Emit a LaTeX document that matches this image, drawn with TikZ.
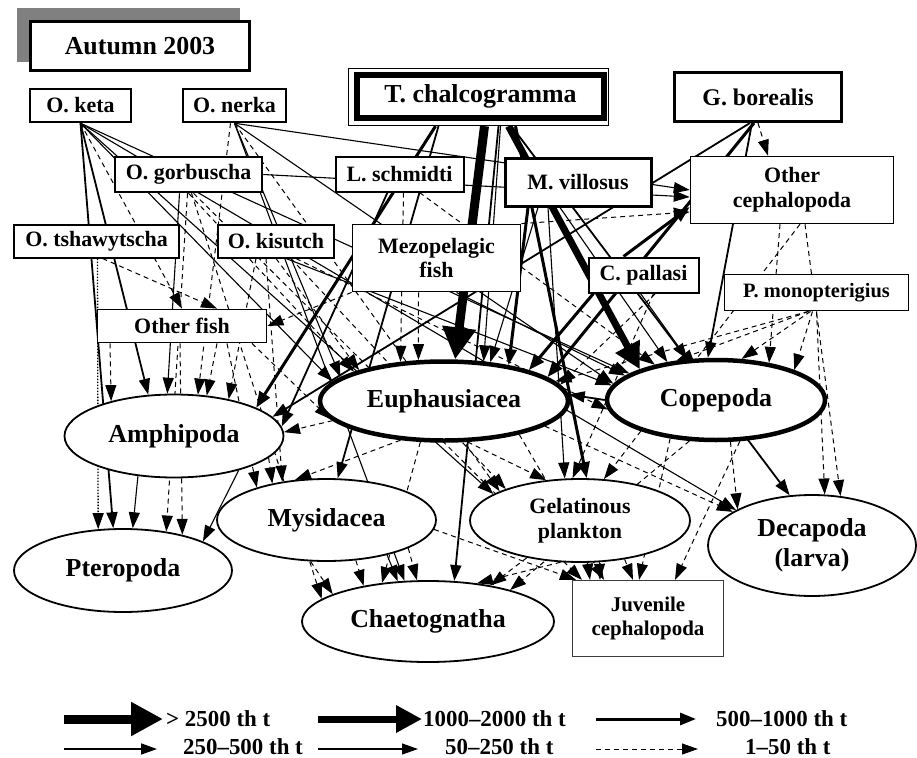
\documentclass[tikz,border=0pt]{standalone}
\usepackage{fontspec}
\setmainfont{Liberation Serif}
\usepackage{tikz}
\usetikzlibrary{arrows.meta,positioning,shapes.geometric,backgrounds}
\definecolor{shadowgray}{HTML}{808080}
\definecolor{juvgray}{HTML}{3C3C3C}
\tikzset{
  fishbox/.style={
    rectangle, draw=black, fill=white, line width=#1,
    font=\bfseries\fontsize{22}{25}\selectfont, align=center,
    inner sep=0pt
  },
  fishbox/.default=2.5bp,
  preyell/.style={
    ellipse, draw=black, fill=white, line width=#1,
    font=\bfseries\fontsize{26}{30}\selectfont, align=center,
    inner sep=0pt
  },
  preyell/.default=1.8bp,
  bigfont/.style={font=\bfseries\fontsize{26}{30}\selectfont},
  smallfont/.style={font=\bfseries\fontsize{22}{25}\selectfont},
  legtext/.style={font=\bfseries\fontsize{23}{25}\selectfont, inner sep=0pt},
  % ── flow classes (th t) ──
  flowxl/.style={line width=9bp, -{Triangle[length=32bp,width=32bp]}},
  flowl/.style={line width=7bp, -{Triangle[length=26bp,width=26bp]}},
  flowm/.style={line width=3bp, -{Triangle[length=16bp,width=12bp]}},
  flows/.style={line width=1.8bp, -{Triangle[length=16bp,width=11bp]}},
  flowxs/.style={line width=1.1bp, -{Triangle[length=16bp,width=11bp]}},
  flowdash/.style={line width=1bp, dash pattern=on 5bp off 4bp,
    -{Triangle[length=16bp,width=11bp]}},
  flowdot/.style={line width=1.3bp, dash pattern=on 1.5bp off 1.5bp,
    -{Triangle[length=16bp,width=11bp]}},
}
\begin{document}
\begin{tikzpicture}[x=1bp, y=-1bp]
  \useasboundingbox (0,0) rectangle (917,758);

  % Title with grey shadow
  \node[fill=shadowgray, minimum width=223bp, minimum height=54bp, inner sep=0pt] (shadow) at (128.5,35) {};
  \node[fishbox=3bp, bigfont, minimum width=219bp, minimum height=49bp] (title) at (140,46) {Autumn 2003};

  % Predators, top rows
  \node[fishbox, minimum width=101bp, minimum height=33bp] (keta) at (80.5,105.5) {O. keta};
  \node[fishbox, minimum width=103bp, minimum height=33bp] (nerka) at (234.5,105.5) {O. nerka};
  \node[fishbox=1.3bp, minimum width=260bp, minimum height=57bp] (tchframe) at (478.5,97) {};
  \node[fishbox=6bp, bigfont, minimum width=247bp, minimum height=43bp] (tch) at (480.5,96.5) {T. chalcogramma};
  \node[fishbox=3bp, font=\bfseries\fontsize{24}{27}\selectfont, minimum width=167bp, minimum height=49bp] (gbor) at (758,97) {G. borealis};

  \node[fishbox, minimum width=147bp, minimum height=35bp] (gorb) at (188.5,174.5) {O. gorbuscha};
  \node[fishbox=2bp, minimum width=128bp, minimum height=35bp] (lsch) at (399.5,174) {L. schmidti};
  \node[fishbox=3bp, minimum width=146bp, minimum height=48bp] (mvil) at (578,182) {M. villosus};
  \node[fishbox=1.5bp, minimum width=203bp, minimum height=67bp] (ocep) at (792,190) {Other\\cephalopoda};

  \node[fishbox=2bp, minimum width=165bp, minimum height=33bp] (tsha) at (96.5,241) {O. tshawytscha};
  \node[fishbox=2bp, minimum width=116bp, minimum height=33bp] (kisu) at (276,241) {O. kisutch};
  \node[fishbox=1.8bp, minimum width=168bp, minimum height=67bp] (mezo) at (436.5,258) {Mezopelagic\\fish};
  \node[fishbox=2bp, minimum width=110bp, minimum height=35bp] (cpal) at (643.5,275) {C. pallasi};
  \node[fishbox=1.8bp, font=\bfseries\fontsize{20.5}{24}\selectfont, minimum width=184bp, minimum height=36bp] (pmon) at (816.5,292.5) {P. monopterigius};
  \node[fishbox=1.8bp, minimum width=169bp, minimum height=33bp] (ofish) at (182,326) {Other fish};

  % Prey groups
  \node[preyell=4.5bp, minimum width=248bp, minimum height=79bp] (euph) at (444,401) {Euphausiacea};
  \node[preyell=4.5bp, minimum width=218bp, minimum height=80bp] (cope) at (716,400) {Copepoda};
  \node[preyell, minimum width=219bp, minimum height=83bp] (amph) at (174,436) {Amphipoda};
  \node[preyell, minimum width=219bp, minimum height=82bp] (mysid) at (326.5,520) {Mysidacea};
  \node[preyell, smallfont, minimum width=220bp, minimum height=83bp] (gelat) at (580,520.5) {Gelatinous\\plankton};
  \node[preyell, minimum width=208bp, minimum height=101bp] (deca) at (812,545.5) {Decapoda\\(larva)};
  \node[preyell, minimum width=218bp, minimum height=83bp] (ptero) at (123,570.5) {Pteropoda};
  \node[preyell, minimum width=252bp, minimum height=81bp] (chaet) at (428,621.5) {Chaetognatha};
  \node[fishbox=1.3bp, draw=juvgray, font=\bfseries\fontsize{21}{25}\selectfont, minimum width=151bp, minimum height=76bp] (juv) at (648,618.5) {Juvenile\\cephalopoda};

  \begin{pgfonlayer}{background}
    % T. chalcogramma
    \draw[flowxl] ([xshift=6bp]tchframe.south) -- (euph.75);
    \draw[flowl] ([xshift=30bp]tchframe.south) -- (cope.158);
    \draw[flowm] ([xshift=37bp]tchframe.south) -- (gelat.81);
    \draw[flows] ([xshift=20bp]tchframe.south) -- (chaet.57);
    \draw[flows] ([xshift=33bp]tchframe.south) -- (deca.114);
    \draw[flowm] ([xshift=-43bp]tchframe.south) -- (amph.19);
    \draw[flows] ([xshift=-40bp]tchframe.south) -- (mysid.75);
    \draw[flowxs] ([xshift=22bp]tchframe.south) -- (euph.45);

    % G. borealis
    \draw[flowdash] (gbor.south) -- ([xshift=-24bp]ocep.north);
    \draw[flows] ([xshift=-6bp]gbor.south) -- (cope.101);
    \draw[flows] ([xshift=-8bp]gbor.south) -- (amph.11);
    \draw[flowm] ([xshift=-4bp]gbor.south) -- (euph.13);

    % O. nerka
    \draw[flowxs] (nerka.south) -- (ocep.west);
    \draw[flowdash] ([xshift=-4bp]nerka.south) -- (amph.60);
    \draw[flowxs] (nerka.south) -- (chaet.120);
    \draw[flowxs] (nerka.south) -- (euph.167);
    \draw[flowxs] (nerka.south) -- (cope.171);
    \draw[flowdash] (nerka.south) -- (gelat.160);

    % O. keta
    \draw[flows] (keta.south) -- (ptero.103);
    \draw[flows] (keta.south) -- (amph.122);
    \draw[flowxs] (keta.south) -- (euph.170);
    \draw[flowxs] (keta.south) -- (cope.163);
    \draw[flowxs] (keta.south) -- (deca.155);
    \draw[flowxs] (keta.south) -- (gelat.163);
    \draw[flowdash] (keta.south) -- (ofish.north);

    % O. gorbuscha
    \draw[flowxs] ([xshift=-9bp]gorb.south) -- (amph.99);
    \draw[flowdash] ([xshift=-1bp]gorb.south) -- (ptero.42);
    \draw[flowdash] (gorb.south) -- (euph.162);
    \draw[flowxs] (gorb.east) -- ([yshift=-7bp]ocep.west);
    \draw[flowdash] ([xshift=5bp]gorb.south) -- ([xshift=-66bp]juv.north);
    \draw[flowdash] ([xshift=3bp]gorb.south) -- (chaet.168);

    % O. tshawytscha
    \draw[flowdot] ([xshift=1bp]tsha.south) -- (ptero.121);
    \draw[flowdash] ([xshift=6bp]tsha.south) -- ([xshift=35bp]ofish.north);

    % O. kisutch
    \draw[flowdash] ([xshift=-20bp]kisu.south) -- (amph.34);
    \draw[flowdash] ([xshift=-10bp]kisu.south) -- (mysid.139);
    \draw[flowdash] (kisu.south) -- (euph.160);
    \draw[flowxs] ([xshift=10bp]kisu.south) -- (cope.172);
    \draw[flowdash] ([xshift=15bp]kisu.south) -- (gelat.157);
    \draw[flowdash] ([xshift=20bp]kisu.south) -- (cope.185);

    % L. schmidti
    \draw[flows] ([xshift=-12bp]lsch.south) -- (amph.5);
    \draw[flowdash] ([xshift=4bp]lsch.south) -- (euph.138);
    \draw[flowdash] ([xshift=20bp]lsch.south) -- (cope.150);

    % M. villosus
    \draw[flowm] ([xshift=-50bp]mvil.south) -- (euph.29);
    \draw[flowxs] ([xshift=-18bp]mvil.south) -- (cope.142);
    \draw[flowxs] ([xshift=-40bp]mvil.south) -- (euph.40);
    \draw[flowxs] ([xshift=-30bp]mvil.south) -- (gelat.110);

    % C. pallasi
    \draw[flowm] ([xshift=-50bp]cpal.south) -- (euph.20);
    \draw[flowm] ([xshift=-20bp]cpal.north) -- ([yshift=-17bp]ocep.west);
    \draw[flowxs] ([xshift=-3bp]cpal.south) -- (cope.125);
    \draw[flowdash] ([xshift=12bp]cpal.south) -- (euph.8);
    \draw[flowdash] ([xshift=10bp]cpal.south) -- (gelat.100);

    % Mezopelagic fish
    \draw[flowdash] ([xshift=-18bp]mezo.south) -- (euph.122);
    \draw[flowdash] (mezo.south west) -- (ofish.east);
    \draw[flowxs] ([xshift=20bp]mezo.south) -- (cope.165);
    \draw[flowdash] (mezo.north east) -- ([yshift=-22bp]ocep.west);

    % P. monopterigius
    \draw[flowdash] ([xshift=-6bp]pmon.south) -- (cope.58);
    \draw[flowdash] ([xshift=-4bp]pmon.south) -- (cope.21);
    \draw[flowdash] (pmon.south) -- (deca.76);
    \draw[flowdash] ([xshift=-8bp]pmon.south) -- (euph.10);
    \draw[flowdash] ([xshift=-8bp]pmon.south) -- (cope.135);

    % Other cephalopoda
    \draw[flowdash] ([xshift=13bp]ocep.south) -- (deca.60);
    \draw[flowdash] ([xshift=-12bp]ocep.south) -- (cope.35);
    \draw[flowdash] ([xshift=8bp]ocep.south) -- (gelat.60);

    % Other fish
    \draw[flowdash] ([xshift=-72bp]ofish.south) -- (amph.151);
    \draw[flowdash] ([xshift=35bp]ofish.south) -- (amph.51);
    \draw[flowdash] ([xshift=-2bp]ofish.south) -- (ptero.31);
    \draw[flowdash] ([xshift=45bp]ofish.south) -- (mysid.155);
    \draw[flowdash] ([xshift=70bp]ofish.south) -- (euph.189);

    % Amphipoda
    \draw[flowxs] (amph.228) -- (ptero.77);
    \draw[flowxs] (amph.332) -- (ptero.20);
    \draw[flowdash] (amph.347) -- (mysid.146);

    % Euphausiacea
    \draw[flowdash] (euph.190) -- (amph.2);
    \draw[flowdash] (euph.222) -- (mysid.128);
    \draw[flowdash] (euph.240) -- (chaet.140);
    \draw[flowdash] (euph.336) -- ([xshift=-44bp]juv.north);
    \draw[flowdash] (euph.346) -- (deca.157);
    \draw[flowdash] (euph.300) -- (gelat.130);

    % Copepoda
    \draw[flows] (cope.180) -- (euph.3);
    \draw[flowdash] (cope.289) -- (deca.154);
    \draw[flowdash] (cope.300) -- ([xshift=27bp]juv.north);
    \draw[flowdash] (cope.237) -- (chaet.21);
    \draw[flowdash] (cope.220) -- ([xshift=-9bp]juv.north);

    % Mysidacea
    \draw[flowdash] (mysid.249) -- (chaet.164);
    \draw[flowdash] (mysid.306) -- (chaet.151);
    \draw[flowxs] (mysid.330) -- (chaet.127);
    \draw[flowdash] (mysid.341) -- (chaet.105);
    \draw[flowdash] (mysid.355) -- ([xshift=-72bp]juv.north);

    % Gelatinous plankton
    \draw[flowdash] (gelat.245) -- (chaet.38);
    \draw[flowdash] (gelat.215) -- (chaet.30);
    \draw[flowdash] (gelat.280) -- ([xshift=-58bp]juv.north);
    \draw[flowdash] (gelat.295) -- ([xshift=-48bp]juv.north);
    \draw[flowdash] (gelat.319) -- ([xshift=-15bp]juv.north);
  \end{pgfonlayer}

  % Legend
  \coordinate (lg1a) at (64,719);  \coordinate (lg1b) at (163,719);
  \coordinate (lg2a) at (318,719); \coordinate (lg2b) at (422,719);
  \coordinate (lg3a) at (596,719); \coordinate (lg3b) at (696,719);
  \coordinate (lg4a) at (64,749);  \coordinate (lg4b) at (157,749);
  \coordinate (lg5a) at (318,749); \coordinate (lg5b) at (418,749);
  \coordinate (lg6a) at (596,749); \coordinate (lg6b) at (698,749);
  \draw[flowxl] (lg1a) -- (lg1b);
  \draw[flowl] (lg2a) -- (lg2b);
  \draw[flowm] (lg3a) -- (lg3b);
  \draw[flows] (lg4a) -- (lg4b);
  \draw[flowxs] (lg5a) -- (lg5b);
  \draw[flowdash] (lg6a) -- (lg6b);
  \node[legtext, right=3bp of lg1b] (lg1t) {> 2500 th t};
  \node[legtext, right=1bp of lg2b] (lg2t) {1000--2000 th t};
  \node[legtext, right=20bp of lg3b] (lg3t) {500--1000 th t};
  \node[legtext, right=26bp of lg4b, yshift=2bp] (lg4t) {250--500 th t};
  \node[legtext, right=27bp of lg5b, yshift=2bp] (lg5t) {50--250 th t};
  \node[legtext, right=47bp of lg6b, yshift=2bp] (lg6t) {1--50 th t};
\end{tikzpicture}
\end{document}
